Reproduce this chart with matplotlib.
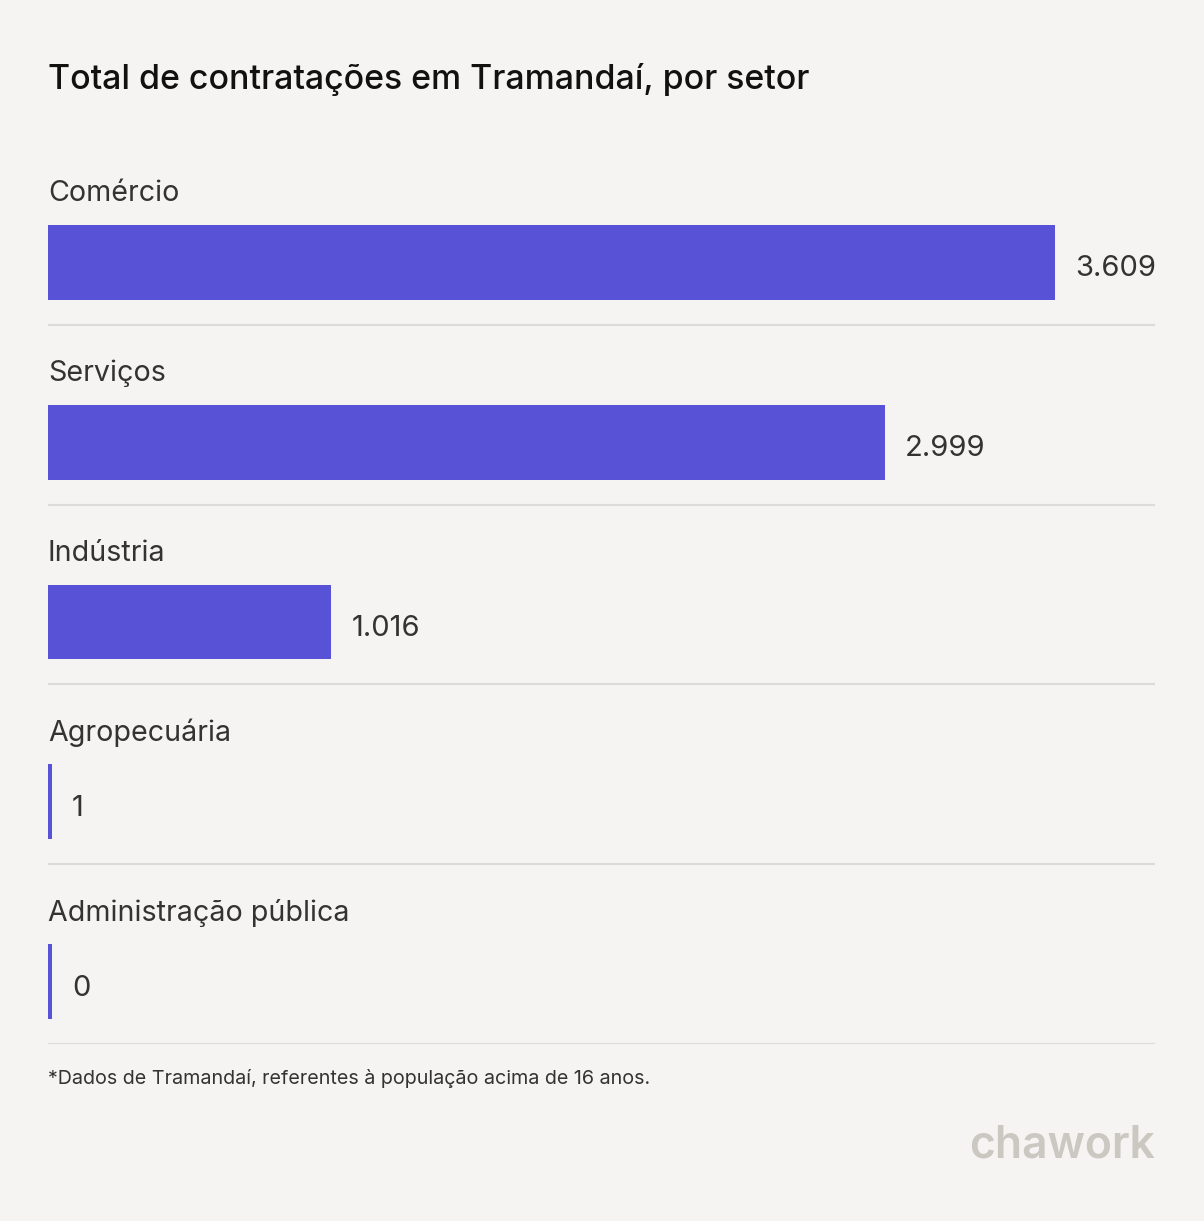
import matplotlib.pyplot as plt

setores = ["Comércio", "Serviços", "Indústria", "Agropecuária", "Administração pública"]
contratacoes = [3609, 2999, 1016, 1, 0]
rotulos = ["3.609", "2.999", "1.016", "1", "0"]

titulo = "Total de contratações em Tramandaí, por setor"
nota = "*Dados de Tramandaí, referentes à população acima de 16 anos."

W, H = 1204, 1221
FUNDO = "#f5f4f2"
ROXO = "#5852d6"
TEXTO = "#333333"

plt.rcParams['font.family'] = ['Inter', 'DejaVu Sans']

fig = plt.figure(figsize=(W / 100, H / 100), dpi=100, facecolor=FUNDO)

# axes in pixel layout: x from 48 to 1155, rows from 145 to 1044
left, right = 48, 1155
top, bottom = 145, 1044
ax = fig.add_axes([left / W, 1 - bottom / H, (right - left) / W, (bottom - top) / H])
ax.set_facecolor(FUNDO)

px_per_unit = (1055 - left) / max(contratacoes)
xmax = (right - left) / px_per_unit
ax.set_xlim(0, xmax)
n = len(setores)
ax.set_ylim(n, 0)

min_w = 4 / px_per_unit  # minimum visible bar width (4 px)
larguras = [max(v, min_w) for v in contratacoes]

for i, (nome, w, rot) in enumerate(zip(setores, larguras, rotulos)):
    yc = i + 0.653
    ax.barh(yc, w, height=0.417, color=ROXO, left=0)
    ax.text(0, i + 0.27, nome, fontsize=20.6, color=TEXTO, va="center", ha="left")
    ax.annotate(rot, xy=(w, yc), xytext=(20 * 0.72, -6.5 * 0.72), textcoords="offset points",
                fontsize=21, color=TEXTO, va="center", ha="left")
    ax.axhline(i + 1, color="#dddbd8", lw=1.5)

for s in ax.spines.values():
    s.set_visible(False)
ax.set_xticks([])
ax.set_yticks([])

fig.text(left / W, 1 - 79 / H, titulo, fontsize=24.4, fontweight="medium", color="#111111",
         va="center", ha="left")
fig.text(left / W, 1 - 1079 / H, nota, fontsize=14.2, color=TEXTO, va="center", ha="left")
fig.text(1155 / W, 1 - 1145 / H, "chawork", fontsize=32, fontweight="semibold", color="#cbc8c2",
         va="center", ha="right")

fig.savefig("out.png", dpi=100, facecolor=FUNDO)
